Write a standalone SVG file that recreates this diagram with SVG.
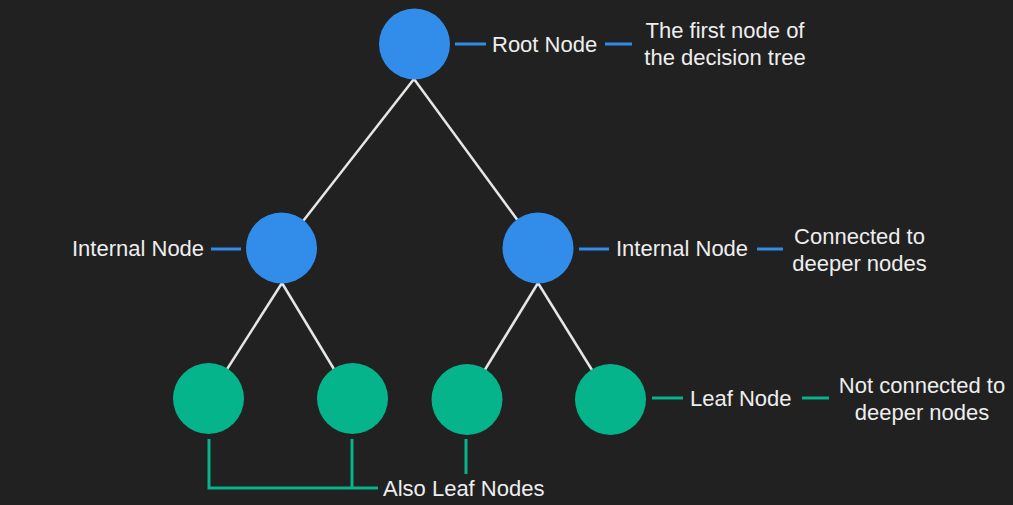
<svg xmlns="http://www.w3.org/2000/svg" width="1013" height="505" viewBox="0 0 1013 505">
<style>
text{font-family:"Liberation Sans",Arial,sans-serif;font-size:22px;fill:#eeeeee}
.c{text-anchor:middle}
.edge{stroke:#e6e6e6;stroke-width:2.5;fill:none}
.bl{stroke:#318de9;stroke-width:3;fill:none}
.gl{stroke:#05b48a;stroke-width:3;fill:none}
.blue{fill:#318de9}
.green{fill:#05b48a}
</style>
<rect width="1013" height="505" fill="#212121"/>
<g id="connectors">
<line class="edge" x1="414" y1="79" x2="282" y2="248"/>
<line class="edge" x1="414" y1="79" x2="538" y2="248"/>
<line class="edge" x1="282" y1="283" x2="208" y2="399"/>
<line class="edge" x1="282" y1="283" x2="352" y2="399"/>
<line class="edge" x1="538" y1="283" x2="467" y2="399"/>
<line class="edge" x1="538" y1="283" x2="610" y2="399"/>
<line class="bl" x1="455" y1="44" x2="486" y2="44"/>
<line class="bl" x1="605" y1="44" x2="632" y2="44"/>
<line class="bl" x1="211" y1="249" x2="241" y2="249"/>
<line class="bl" x1="579" y1="249" x2="609" y2="249"/>
<line class="bl" x1="757" y1="249" x2="783" y2="249"/>
<line class="gl" x1="652" y1="398" x2="683" y2="398"/>
<line class="gl" x1="802" y1="398" x2="829" y2="398"/>
<polyline class="gl" points="209,439 209,488 378,488"/>
<line class="gl" x1="352" y1="439" x2="352" y2="488"/>
<line class="gl" x1="466" y1="439" x2="466" y2="474"/>
</g>
<g id="root"><circle class="blue" cx="414.5" cy="44" r="35.5"/></g>
<g id="internal-left"><circle class="blue" cx="281.5" cy="248" r="35.5"/></g>
<g id="internal-right"><circle class="blue" cx="538" cy="248" r="35.5"/></g>
<g id="leaf-1"><circle class="green" cx="208.5" cy="398.5" r="35.5"/></g>
<g id="leaf-2"><circle class="green" cx="352.5" cy="398.5" r="35.5"/></g>
<g id="leaf-3"><circle class="green" cx="467" cy="399.5" r="35.5"/></g>
<g id="leaf-4"><circle class="green" cx="610.5" cy="399.5" r="35.5"/></g>
<g id="labels">
<text x="492" y="52">Root Node</text>
<text class="c" x="725" y="38">The first node of</text>
<text class="c" x="725" y="65">the decision tree</text>
<text x="72" y="256">Internal Node</text>
<text x="616" y="256">Internal Node</text>
<text class="c" x="859.5" y="244">Connected to</text>
<text class="c" x="859.5" y="271">deeper nodes</text>
<text x="690" y="406">Leaf Node</text>
<text class="c" x="922" y="393">Not connected to</text>
<text class="c" x="922" y="420">deeper nodes</text>
<text x="383" y="496">Also Leaf Nodes</text>
</g>
</svg>
